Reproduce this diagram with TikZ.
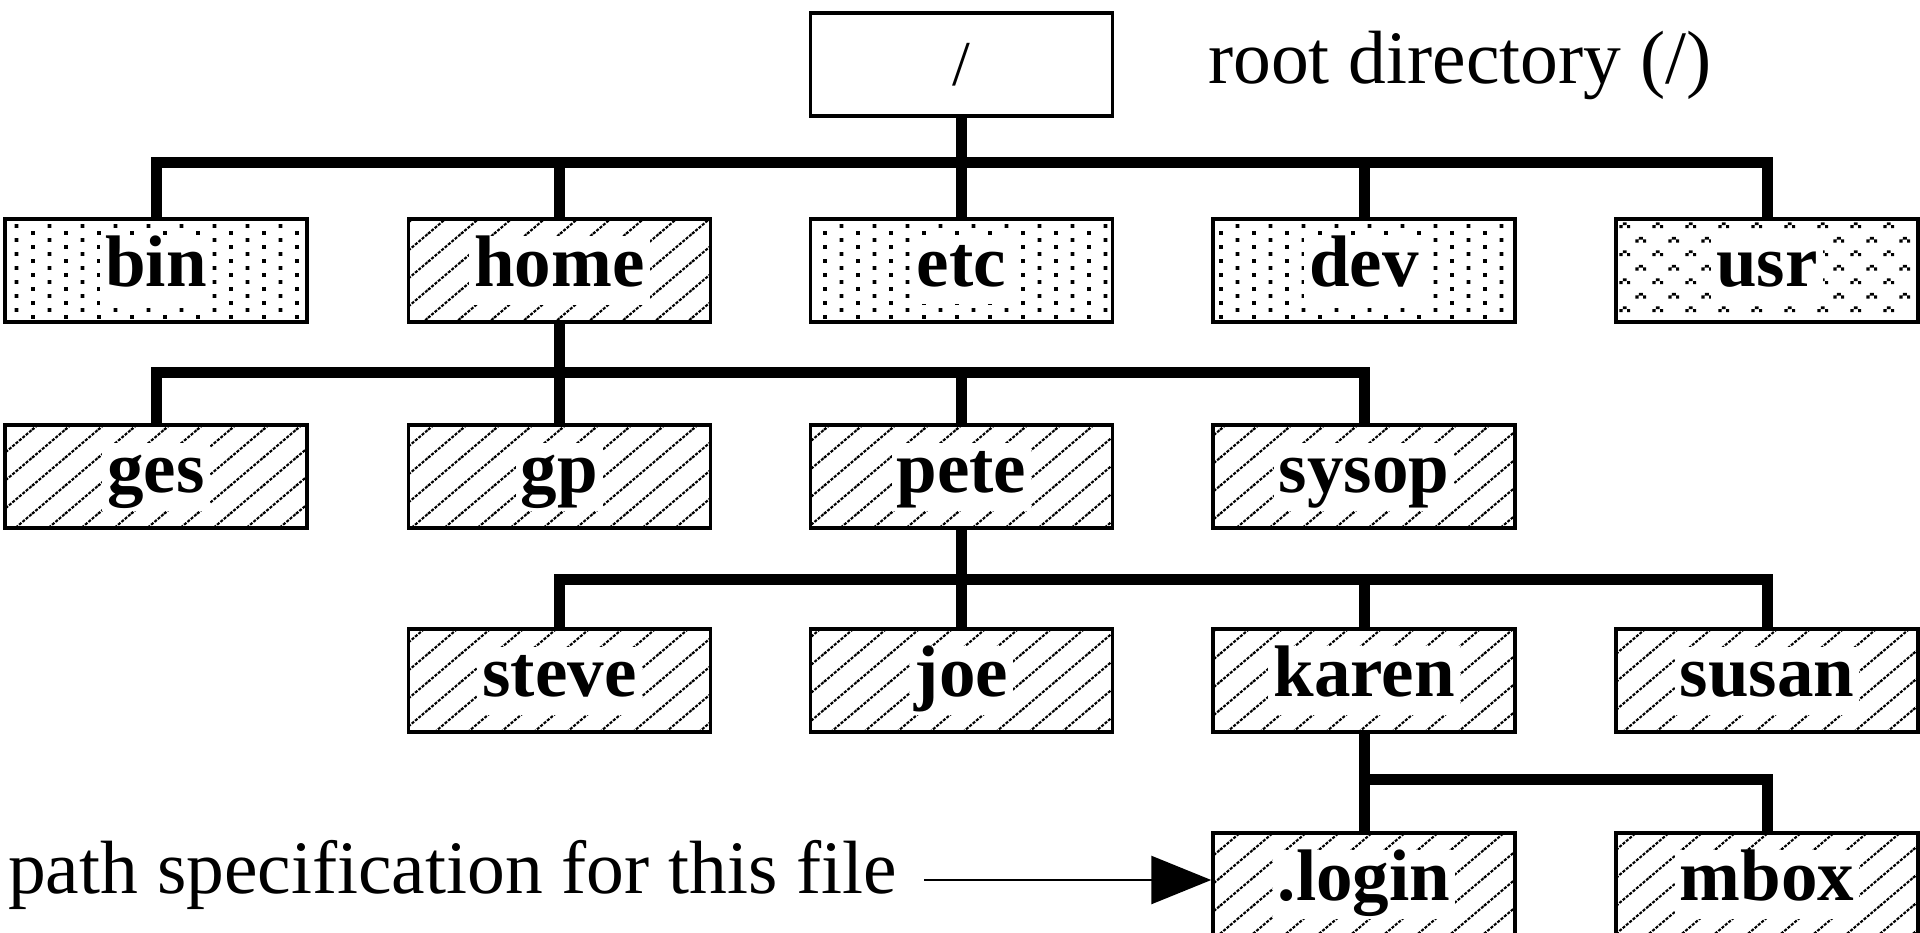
\documentclass[tikz,border=0pt]{standalone}
\usepackage{fontspec}
\setmainfont{Liberation Serif}
\usetikzlibrary{patterns,arrows.meta}

% diagonal hatching (north-east, dashed look)
\pgfdeclarepatternformonly{hatch}{\pgfqpoint{-2pt}{-2pt}}{\pgfqpoint{35pt}{30pt}}{\pgfqpoint{33pt}{28pt}}{%
  \pgfsetlinewidth{2.1pt}%
  \pgfsetdash{{3pt}{1.4pt}}{0pt}%
  \pgfpathmoveto{\pgfqpoint{-1pt}{-0.85pt}}%
  \pgfpathlineto{\pgfqpoint{34pt}{28.85pt}}%
  \pgfusepath{stroke}}

% staggered dots
\pgfdeclarepatternformonly{sdots}{\pgfqpoint{-2pt}{-2pt}}{\pgfqpoint{35pt}{16pt}}{\pgfqpoint{33pt}{14pt}}{%
  \pgfpathrectangle{\pgfqpoint{-1.8pt}{-1.8pt}}{\pgfqpoint{3.6pt}{3.6pt}}%
  \pgfpathrectangle{\pgfqpoint{14.7pt}{5.2pt}}{\pgfqpoint{3.6pt}{3.6pt}}%
  \pgfusepath{fill}}

% small chevrons
\pgfdeclarepatternformonly{chev}{\pgfqpoint{0pt}{0pt}}{\pgfqpoint{33pt}{28pt}}{\pgfqpoint{33pt}{28pt}}{%
  \pgfpathrectangle{\pgfqpoint{6pt}{8pt}}{\pgfqpoint{4pt}{2.8pt}}%
  \pgfpathrectangle{\pgfqpoint{2.5pt}{5pt}}{\pgfqpoint{3.2pt}{3.2pt}}%
  \pgfpathrectangle{\pgfqpoint{10.3pt}{5pt}}{\pgfqpoint{3.2pt}{3.2pt}}%
  \pgfpathrectangle{\pgfqpoint{22.5pt}{22pt}}{\pgfqpoint{4pt}{2.8pt}}%
  \pgfpathrectangle{\pgfqpoint{19pt}{19pt}}{\pgfqpoint{3.2pt}{3.2pt}}%
  \pgfpathrectangle{\pgfqpoint{26.8pt}{19pt}}{\pgfqpoint{3.2pt}{3.2pt}}%
  \pgfusepath{fill}}

\newcommand{\dirlabel}[1]{{\setlength{\fboxsep}{0pt}\colorbox{white}{\rule[-18pt]{0pt}{68pt}\hspace{5pt}#1\hspace{5pt}}}}

\tikzset{
  dirbox/.style={draw, line width=3.5pt, minimum width=302pt, minimum height=103pt,
    inner sep=0pt, font=\fontsize{73}{80}\selectfont\bfseries},
  hatchbox/.style={dirbox, pattern=hatch},
  dotbox/.style={dirbox, pattern=sdots},
  chevbox/.style={dirbox, pattern=chev},
  rootbox/.style={draw, fill=white, line width=3.5pt, minimum width=302pt, minimum height=103pt,
    inner sep=0pt, font=\fontsize{64}{70}\selectfont},
  link/.style={line width=11pt, line join=miter, line cap=butt},
  note/.style={font=\fontsize{75.5}{80}\selectfont, inner sep=0pt, anchor=base west},
  pointer/.style={line width=2.7pt, -{Triangle[length=60pt,width=48pt]}}
}

\begin{document}
\begin{tikzpicture}[x=1pt,y=-1pt]
  \fill[white] (0,0) rectangle (1920,933);
  \useasboundingbox (0,0) rectangle (1920,933);

  % root
  \node[rootbox] (root) at (961.5,64.5) {/};
  \node[note] (rootnote) at (1208,84) {root directory (/)};

  % row 1
  \node[dotbox]   (bin)  at (156,270.5)   {\dirlabel{bin}};
  \node[hatchbox] (home) at (559.5,270.5) {\dirlabel{home}};
  \node[dotbox]   (etc)  at (961.5,270.5) {\dirlabel{etc}};
  \node[dotbox]   (dev)  at (1364,270.5)  {\dirlabel{dev}};
  \node[chevbox]  (usr)  at (1767,270.5)  {\dirlabel{usr}};

  % row 2
  \node[hatchbox] (ges)   at (156,476.5)   {\dirlabel{ges}};
  \node[hatchbox] (gp)    at (559.5,476.5) {\dirlabel{gp}};
  \node[hatchbox] (pete)  at (961.5,476.5) {\dirlabel{pete}};
  \node[hatchbox] (sysop) at (1364,476.5)  {\dirlabel{sysop}};

  % row 3
  \node[hatchbox] (steve) at (559.5,680.5) {\dirlabel{steve}};
  \node[hatchbox] (joe)   at (961.5,680.5) {\dirlabel{joe}};
  \node[hatchbox] (karen) at (1364,680.5)  {\dirlabel{karen}};
  \node[hatchbox] (susan) at (1767,680.5)  {\dirlabel{susan}};

  % row 4
  \node[hatchbox] (login) at (1364,884.5) {\dirlabel{.login}};
  \node[hatchbox] (mbox)  at (1767,884.5) {\dirlabel{mbox}};

  % bus junctions
  \coordinate (b1) at (961.5,163);
  \coordinate (b2) at (559.5,372);
  \coordinate (b3) at (961.5,579);
  \coordinate (b4) at (1364,779);

  \draw[link] (root.south) -- (b1);
  \foreach \n in {bin,home,etc,dev,usr} \draw[link] (\n.north) |- (b1);
  \draw[link] (home.south) -- (b2);
  \foreach \n in {ges,gp,pete,sysop} \draw[link] (\n.north) |- (b2);
  \draw[link] (pete.south) -- (b3);
  \foreach \n in {steve,joe,karen,susan} \draw[link] (\n.north) |- (b3);
  \draw[link] (karen.south) -- (b4);
  \foreach \n in {login,mbox} \draw[link] (\n.north) |- (b4);

  % pointer
  \node[note] (pathnote) at (8,893) {path specification for this file};
  \coordinate (ptrstart) at (924,880);
  \draw[pointer] (ptrstart) -- (ptrstart -| login.west);
\end{tikzpicture}
\end{document}
